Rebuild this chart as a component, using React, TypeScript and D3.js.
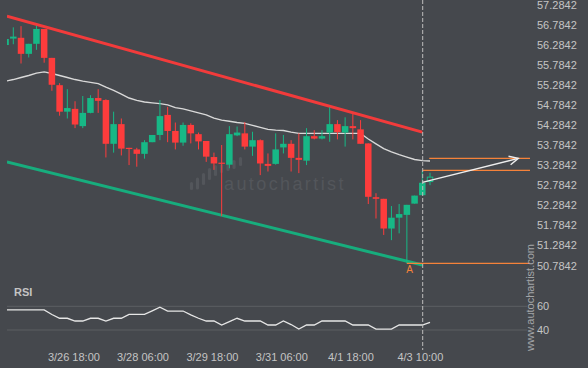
import React from 'react';
import * as d3 from 'd3';

const W = 588;
const H = 368;

// 4h candles, index 0 is the partly hidden one at the left edge, 55 is the live one
const opens = [56.28, 56.44, 56.46, 56.06, 56.31, 56.68, 55.96, 55.28, 54.62, 54.69, 54.26, 54.59, 54.96, 54.91, 53.82, 54.31, 53.72, 53.68, 53.57, 53.86, 54.04, 54.54, 54.14, 53.85, 54.29, 54.06, 53.89, 53.49, 53.35, 53.30, 54.03, 54.08, 53.75, 53.91, 53.32, 53.32, 53.73, 53.82, 53.47, 53.40, 54.01, 53.95, 54.10, 54.31, 54.10, 54.26, 54.18, 53.83, 52.49, 52.45, 51.71, 51.98, 52.05, 52.33, 52.54, 52.88];
const highs = [56.45, 56.72, 56.75, 56.31, 56.76, 56.68, 55.96, 55.33, 55.18, 54.88, 55.01, 55.03, 55.18, 54.93, 54.62, 54.45, 53.72, 53.72, 53.91, 54.04, 54.91, 54.74, 54.35, 54.35, 54.33, 54.10, 53.89, 53.60, 53.79, 54.26, 54.25, 54.36, 54.12, 53.93, 53.58, 54.08, 54.04, 53.91, 54.08, 54.21, 54.16, 54.16, 54.73, 54.41, 54.48, 54.56, 54.41, 53.83, 52.59, 52.45, 52.27, 52.32, 52.30, 52.53, 53.15, 53.10];
const lows = [56.27, 56.30, 55.82, 55.97, 56.16, 55.84, 55.14, 54.52, 54.45, 54.21, 54.21, 54.58, 54.59, 53.48, 53.60, 53.53, 53.29, 53.25, 53.45, 53.86, 53.91, 53.86, 53.68, 53.77, 53.83, 53.68, 53.37, 53.17, 52.02, 53.21, 54.01, 53.68, 53.52, 53.04, 53.13, 53.30, 53.58, 53.13, 53.09, 53.29, 53.93, 53.93, 53.87, 53.93, 53.75, 53.93, 53.82, 52.32, 51.96, 51.55, 51.42, 51.59, 50.84, 52.33, 52.54, 52.79];
const closes = [56.43, 56.49, 56.06, 56.31, 56.68, 55.96, 55.29, 54.62, 54.71, 54.30, 54.59, 54.96, 54.89, 53.82, 54.31, 53.70, 53.70, 53.57, 53.86, 54.04, 54.51, 54.14, 53.85, 54.29, 54.08, 53.88, 53.50, 53.33, 53.33, 54.06, 54.10, 53.75, 53.91, 53.33, 53.27, 53.68, 53.82, 53.47, 53.42, 54.01, 53.95, 54.01, 54.31, 54.11, 54.26, 54.21, 53.82, 52.50, 52.45, 51.71, 51.98, 52.07, 52.30, 52.53, 52.85, 52.99];
const liveIndex = 55;

const maValues = [55.38, 55.42, 55.47, 55.52, 55.58, 55.61, 55.57, 55.52, 55.47, 55.42, 55.38, 55.35, 55.32, 55.23, 55.15, 55.06, 54.96, 54.90, 54.86, 54.84, 54.82, 54.79, 54.72, 54.69, 54.64, 54.59, 54.54, 54.46, 54.41, 54.38, 54.35, 54.33, 54.28, 54.23, 54.18, 54.16, 54.15, 54.11, 54.08, 54.08, 54.08, 54.08, 54.08, 54.08, 54.08, 54.08, 54.08, 53.94, 53.82, 53.70, 53.62, 53.55, 53.49, 53.43, 53.40, 53.39];

const rsiValues = [56.9, 56.9, 56.9, 56.9, 56.9, 56.9, 53.1, 49.9, 49.9, 47.6, 47.6, 49.9, 49.9, 47.6, 49.9, 49.9, 53.2, 53.2, 53.2, 56.2, 59.2, 56.0, 56.0, 56.0, 52.7, 49.9, 47.6, 47.6, 44.2, 47.0, 49.9, 47.6, 47.6, 47.6, 44.2, 44.2, 47.6, 44.6, 40.8, 44.2, 44.2, 47.6, 47.6, 47.6, 47.6, 44.2, 44.2, 44.2, 40.8, 40.8, 40.8, 44.2, 44.2, 44.2, 44.2, 46.5];

const priceTicks = [57.2842, 56.7842, 56.2842, 55.7842, 55.2842, 54.7842, 54.2842, 53.7842, 53.2842, 52.7842, 52.2842, 51.7842, 51.2842, 50.7842];
const rsiTicks = [60, 40];
const dateLabels = ['3/26 18:00', '3/28 06:00', '3/29 18:00', '3/31 06:00', '4/1 18:00', '4/3 10:00'];
const dateIndex = [8.85, 17.8, 26.8, 35.8, 44.75, 53.75];

// channel: [index, price] ends
const upperChannel: [number, number][] = [[0.18, 57.0], [54, 54.11]];
const lowerChannel: [number, number][] = [[0.18, 53.37], [54, 50.8]];
// orange levels: price and index where they begin
const levelPrices = [53.458, 53.159, 50.843];
const levelStart = [54.9, 54, 52];
const forecast: [number, number][] = [[54, 52.86], [66.44, 53.458]];
const patternPoint = { label: 'A', index: 52, price: 50.843 };

const logoBars = [[191.5, 182, 190], [197.5, 177.5, 189.5], [203.5, 173, 185], [209.5, 168, 180], [215.5, 165, 176], [221.5, 164, 173], [228, 163, 171], [234, 160, 169], [240.5, 157, 166]];

const BG = '#45484d';
const UP = '#17b886';
const DOWN = '#fd3c3c';
const ORANGE = '#f5823a';
const TEXT = '#c4c4c4';
const FONT = '"Liberation Sans", Arial, sans-serif';

const App: React.FC = () => {
  const x = d3.scaleLinear().domain([0, 55]).range([5.583, 5.583 + 55 * 7.717]);
  const y = d3.scaleLinear().domain([50.7842, 57.2842]).range([265.7, 4.7]);
  const yr = d3.scaleLinear().domain([40, 60]).range([330, 306.3]);
  const plotRight = 530;
  const bodyW = 6.5;

  const maLine = d3.line<number>().x((_, i) => x(i)).y(d => y(d));
  const rsiLine = d3.line<number>().x((_, i) => x(i)).y(d => yr(d));
  const segLine = d3.line<[number, number]>().x(d => x(d[0])).y(d => y(d[1]));

  const tip = forecast[1];
  const tx = x(tip[0]);
  const ty = y(tip[1]);
  const ang = Math.atan2(y(forecast[0][1]) - ty, x(forecast[0][0]) - tx);
  const head = [ang + 0.45, ang - 0.45].map(a => [tx + 10 * Math.cos(a), ty + 10 * Math.sin(a)]);

  return (
    <svg width={W} height={H} style={{ position: 'absolute', left: 0, top: 0, display: 'block' }}>
      <defs>
        <clipPath id="plot">
          <rect x={7} y={0} width={plotRight - 7} height={276} />
        </clipPath>
        <clipPath id="rsi">
          <rect x={7} y={280} width={plotRight - 7} height={70} />
        </clipPath>
      </defs>
      <rect x={0} y={0} width={W} height={H} fill={BG} />

      {/* watermark logo */}
      <g fill="#53565b">
        {logoBars.map((b, i) => (
          <rect key={i} x={b[0] - 1.6} y={b[1]} width={3.2} height={b[2] - b[1]} rx={1.6} />
        ))}
        <text x={224} y={190} fontFamily={FONT} fontSize={18} letterSpacing={2.4}>autochartist</text>
      </g>

      <g clipPath="url(#plot)">
        {/* channel */}
        <path d={segLine(upperChannel) || ''} stroke="#f23b3b" strokeWidth={3} fill="none" />
        <path d={segLine(lowerChannel) || ''} stroke="#17ad7d" strokeWidth={3} fill="none" />

        {/* moving average */}
        <path d={maLine(maValues) || ''} stroke="#d9d9d9" strokeWidth={1.4} fill="none" />

        {/* candles */}
        {opens.map((o, i) => {
          const c = closes[i];
          const up = c >= o;
          const col = up ? UP : DOWN;
          const top = y(Math.max(o, c));
          const bot = y(Math.min(o, c));
          const hollow = i === liveIndex;
          return (
            <g key={i}>
              <line x1={x(i)} x2={x(i)} y1={y(highs[i])} y2={y(lows[i])} stroke={col} strokeWidth={1} />
              {hollow ? (
                <rect x={x(i) - bodyW / 2 + 0.5} y={top} width={bodyW - 1} height={Math.max(1, bot - top)} fill={BG} stroke={col} strokeWidth={1} />
              ) : (
                <rect x={x(i) - bodyW / 2} y={top} width={bodyW} height={Math.max(1.2, bot - top)} fill={col} />
              )}
            </g>
          );
        })}

        {/* levels */}
        {levelPrices.map((p, i) => (
          <line key={i} x1={x(levelStart[i])} x2={plotRight} y1={y(p)} y2={y(p)} stroke={ORANGE} strokeWidth={1.3} />
        ))}

        {/* forecast arrow */}
        <path d={segLine(forecast) || ''} stroke="#eeeeee" strokeWidth={1.4} fill="none" />
        <path d={`M${head[0][0]},${head[0][1]}L${tx},${ty}L${head[1][0]},${head[1][1]}`} stroke="#eeeeee" strokeWidth={1.4} fill="none" />
      </g>

      <text x={x(patternPoint.index) + 2.6} y={y(patternPoint.price) + 10} fill={ORANGE} fontFamily={FONT} fontSize={10} textAnchor="middle">{patternPoint.label}</text>

      {/* price axis */}
      {priceTicks.map(t => (
        <text key={t} x={537} y={y(t)} dy="0.35em" fill={TEXT} fontFamily={FONT} fontSize={11}>{t.toFixed(4)}</text>
      ))}

      {/* RSI panel */}
      <text x={14} y={295.5} fill={TEXT} fontFamily={FONT} fontSize={11} fontWeight="bold">RSI</text>
      {rsiTicks.map(t => (
        <g key={t}>
          <line x1={7} x2={527} y1={yr(t)} y2={yr(t)} stroke="#5c5f63" strokeWidth={1} />
          <text x={537} y={yr(t)} dy="0.35em" fill={TEXT} fontFamily={FONT} fontSize={11}>{t}</text>
        </g>
      ))}
      <g clipPath="url(#rsi)">
        <path d={rsiLine(rsiValues) || ''} stroke="#e6e6e6" strokeWidth={1.3} fill="none" />
      </g>

      {/* current bar marker */}
      <line x1={x(54) + 0.4} x2={x(54) + 0.4} y1={0} y2={350} stroke="#bdbdbd" strokeWidth={1} strokeDasharray="4,2" />

      {/* dates */}
      {dateLabels.map((d, i) => (
        <text key={d} x={x(dateIndex[i])} y={360.5} fill={TEXT} fontFamily={FONT} fontSize={11} textAnchor="middle">{d}</text>
      ))}

      <text transform="translate(533.5,351) rotate(-90)" fill="#a3a5a8" fontFamily={FONT} fontSize={11}>www.autochartist.com</text>
    </svg>
  );
};

export default App;
